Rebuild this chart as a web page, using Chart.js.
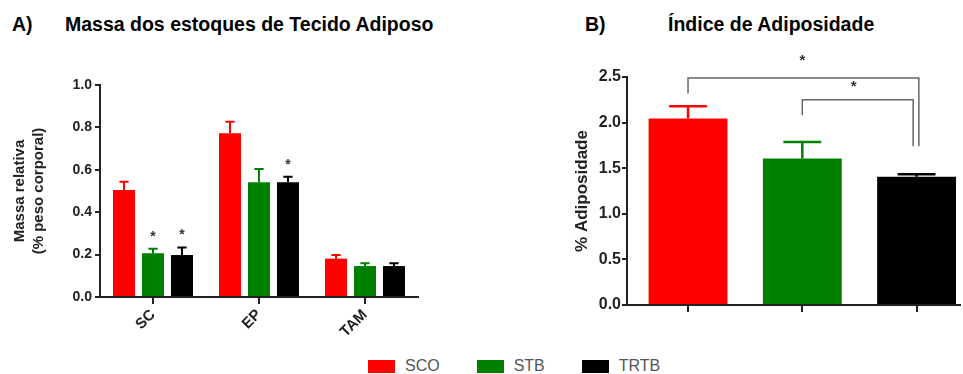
<!DOCTYPE html>
<html>
<head>
<meta charset="utf-8">
<script src="https://cdn.jsdelivr.net/npm/chart.js@4/dist/chart.umd.min.js"></script>
<style>
	body {
		margin: 0;
		width: 963px;
		height: 374px;
		background: #fff;
		position: relative;
		overflow: hidden;
		font-family: "Liberation Sans", Arial, sans-serif;
	}
	.title {
		position: absolute;
		top: 12px;
		font-family: "Liberation Sans Narrow", "Liberation Sans", Arial, sans-serif;
		font-weight: bold;
		font-size: 19.5px;
		line-height: 24px;
		color: #000;
		white-space: nowrap;
	}
	.plot {
		position: absolute;
	}
	#plotA {
		left: 0;
		top: 50px;
		width: 480px;
		height: 300px;
	}
	#plotB {
		left: 540px;
		top: 40px;
		width: 423px;
		height: 300px;
	}
	#legend {
		position: absolute;
		left: 368px;
		top: 356px;
		display: flex;
		font-size: 16px;
		color: #555;
		line-height: 20px;
	}
	.item {
		display: flex;
		align-items: center;
		margin-right: 37px;
	}
	.swatch {
		width: 27px;
		height: 13px;
		margin-right: 10px;
	}
</style>
</head>
<body>
<div class="title" style="left:12px">A)</div>
<div class="title" style="left:65px">Massa dos estoques de Tecido Adiposo</div>
<div class="title" style="left:585px">B)</div>
<div class="title" style="left:668px">Índice de Adiposidade</div>
<div class="plot" id="plotA"><canvas id="chartA"></canvas></div>
<div class="plot" id="plotB"><canvas id="chartB"></canvas></div>
<div id="legend"></div>
<script>
// panel A: relative mass of the fat depots
const depots = ["SC", "EP", "TAM"];
const groups = ["SCO", "STB", "TRTB"];
const groupColors = ["#ff0000", "#008000", "#000000"];
const scoMass = [0.505, 0.772, 0.181];
const stbMass = [0.206, 0.541, 0.146];
const trtbMass = [0.198, 0.541, 0.146];
const scoMassErr = [0.039, 0.055, 0.017];
const stbMassErr = [0.022, 0.063, 0.013];
const trtbMassErr = [0.036, 0.026, 0.013];
const scoMassSig = [false, false, false];
const stbMassSig = [true, false, false];
const trtbMassSig = [true, true, false];
const massTicks = [0, 0.2, 0.4, 0.6, 0.8, 1.0];

// panel B: adiposity index
const adiposity = [2.045, 1.607, 1.405];
const adiposityErr = [0.135, 0.18, 0.03];
const adiposityTicks = [0, 0.5, 1.0, 1.5, 2.0, 2.5];
// significance brackets, in data units
const brackets = [
	{ from: 0, to: 2.02, level: 2.49, fromEnd: 2.32, toEnd: 1.74, starX: 1.0, starY: 2.68 },
	{ from: 1, to: 1.97, level: 2.25, fromEnd: 2.08, toEnd: 1.74, starX: 1.45, starY: 2.39 }
];

const axisColor = "#222";
const textColor = "#222";

const errorBarPlugin = {
	id: "errorBars",
	afterDatasetsDraw(chart, args, opts) {
		const ctx = chart.ctx;
		const yScale = chart.scales.y;
		chart.data.datasets.forEach((ds, di) => {
			if (!ds.errors) {
				return;
			}
			const meta = chart.getDatasetMeta(di);
			meta.data.forEach((bar, i) => {
				const value = meta.controller.getParsed(i).y;
				const top = yScale.getPixelForValue(value + ds.errors[i]);
				const color = Array.isArray(ds.backgroundColor) ? ds.backgroundColor[i] : ds.backgroundColor;
				const half = bar.width * opts.capRatio / 2;
				ctx.save();
				ctx.strokeStyle = color;
				ctx.lineWidth = opts.lineWidth;
				ctx.beginPath();
				ctx.moveTo(bar.x, bar.y);
				ctx.lineTo(bar.x, top);
				ctx.moveTo(bar.x - half, top);
				ctx.lineTo(bar.x + half, top);
				ctx.stroke();
				if (ds.sig && ds.sig[i]) {
					ctx.fillStyle = "#333";
					ctx.font = "bold 14px 'Liberation Sans', Arial";
					ctx.textAlign = "center";
					ctx.textBaseline = "middle";
					ctx.fillText("*", bar.x, top - opts.starGap);
				}
				ctx.restore();
			});
		});
	}
};

const bracketPlugin = {
	id: "brackets",
	afterDraw(chart) {
		const ctx = chart.ctx;
		const x = chart.scales.x;
		const y = chart.scales.y;
		ctx.save();
		ctx.strokeStyle = "#666";
		ctx.lineWidth = 1.5;
		brackets.forEach(b => {
			ctx.beginPath();
			ctx.moveTo(x.getPixelForValue(b.from), y.getPixelForValue(b.fromEnd));
			ctx.lineTo(x.getPixelForValue(b.from), y.getPixelForValue(b.level));
			ctx.lineTo(x.getPixelForValue(b.to), y.getPixelForValue(b.level));
			ctx.lineTo(x.getPixelForValue(b.to), y.getPixelForValue(b.toEnd));
			ctx.stroke();
			ctx.fillStyle = "#333";
			ctx.font = "bold 15px 'Liberation Sans', Arial";
			ctx.textAlign = "center";
			ctx.textBaseline = "middle";
			ctx.fillText("*", x.getPixelForValue(b.starX), y.getPixelForValue(b.starY));
		});
		ctx.restore();
	}
};

function drawMassChart() {
	const context = document.getElementById("chartA").getContext("2d");
	const values = [scoMass, stbMass, trtbMass];
	const errors = [scoMassErr, stbMassErr, trtbMassErr];
	const sigs = [scoMassSig, stbMassSig, trtbMassSig];
	const datasets = groups.map((name, i) => {
		return {
			label: name,
			data: values[i],
			errors: errors[i],
			sig: sigs[i],
			backgroundColor: groupColors[i],
			categoryPercentage: 0.82,
			barPercentage: 0.76
		};
	});
	new Chart(context, {
		type: "bar",
		data: {
			labels: depots,
			datasets: datasets
		},
		options: {
			responsive: true,
			maintainAspectRatio: false,
			animation: false,
			layout: {
				padding: { top: 35, right: 62, left: 0, bottom: 0 }
			},
			plugins: {
				legend: { display: false },
				tooltip: { enabled: false },
				errorBars: { capRatio: 0.42, lineWidth: 2, starGap: 12 }
			},
			scales: {
				x: {
					grid: { drawOnChartArea: false, offset: false, tickLength: 7, color: axisColor, lineWidth: 2 },
					border: { color: axisColor, width: 2 },
					ticks: {
						color: textColor,
						font: { family: "'Liberation Sans', Arial", size: 15, weight: "bold" },
						minRotation: 45,
						maxRotation: 45,
						padding: 2
					},
					afterFit: scale => { scale.height = 53; }
				},
				y: {
					min: 0,
					max: 1,
					afterBuildTicks: scale => { scale.ticks = massTicks.map(v => ({ value: v })); },
					grid: { drawOnChartArea: false, tickLength: 5, color: axisColor, lineWidth: 2 },
					border: { color: axisColor, width: 2 },
					ticks: {
						color: textColor,
						font: { family: "'Liberation Sans', Arial", size: 14, weight: "bold" },
						padding: 3,
						callback: v => v.toFixed(1)
					},
					title: {
						display: true,
						text: ["Massa relativa", "(% peso corporal)"],
						color: textColor,
						font: { family: "'Liberation Sans', Arial", size: 15, weight: "bold", lineHeight: "19px" },
						padding: { top: 10, bottom: 0 }
					},
					afterFit: scale => { scale.width = 100; }
				}
			}
		},
		plugins: [errorBarPlugin]
	});
}

function drawAdiposityChart() {
	const context = document.getElementById("chartB").getContext("2d");
	const data = adiposity.map((v, i) => ({ x: i, y: v }));
	new Chart(context, {
		type: "bar",
		data: {
			datasets: [
				{
					label: "Adiposidade",
					data: data,
					errors: adiposityErr,
					backgroundColor: groupColors,
					categoryPercentage: 1,
					barPercentage: 0.69
				}
			]
		},
		options: {
			responsive: true,
			maintainAspectRatio: false,
			animation: false,
			layout: {
				padding: { top: 37, right: 3, left: 0, bottom: 0 }
			},
			plugins: {
				legend: { display: false },
				tooltip: { enabled: false },
				errorBars: { capRatio: 0.48, lineWidth: 2.5, starGap: 12 }
			},
			scales: {
				x: {
					type: "linear",
					offset: false,
					min: -0.534,
					max: 2.38,
					afterBuildTicks: scale => { scale.ticks = groups.map((_, i) => ({ value: i })); },
					grid: { drawOnChartArea: false, offset: false, tickLength: 7, color: axisColor, lineWidth: 2 },
					border: { color: axisColor, width: 2 },
					ticks: { display: false },
					afterFit: scale => { scale.height = 35; }
				},
				y: {
					min: 0,
					max: 2.5,
					afterBuildTicks: scale => { scale.ticks = adiposityTicks.map(v => ({ value: v })); },
					grid: { drawOnChartArea: false, tickLength: 5, color: axisColor, lineWidth: 2 },
					border: { color: axisColor, width: 2 },
					ticks: {
						color: textColor,
						font: { family: "'Liberation Sans', Arial", size: 16, weight: "bold" },
						padding: 1,
						callback: v => v.toFixed(1)
					},
					title: {
						display: true,
						text: "% Adiposidade",
						color: textColor,
						font: { family: "'Liberation Sans', Arial", size: 17, weight: "bold", lineHeight: "20px" },
						padding: { top: 32, bottom: 0 }
					},
					afterFit: scale => { scale.width = 87; }
				}
			}
		},
		plugins: [errorBarPlugin, bracketPlugin]
	});
}

function buildLegend() {
	const legend = document.getElementById("legend");
	groups.forEach((name, i) => {
		const item = document.createElement("div");
		item.className = "item";
		const swatch = document.createElement("span");
		swatch.className = "swatch";
		swatch.style.background = groupColors[i];
		const label = document.createElement("span");
		label.textContent = name;
		item.appendChild(swatch);
		item.appendChild(label);
		legend.appendChild(item);
	});
}

document.addEventListener("DOMContentLoaded", _ => {
	drawMassChart();
	drawAdiposityChart();
	buildLegend();
});
</script>
</body>
</html>
